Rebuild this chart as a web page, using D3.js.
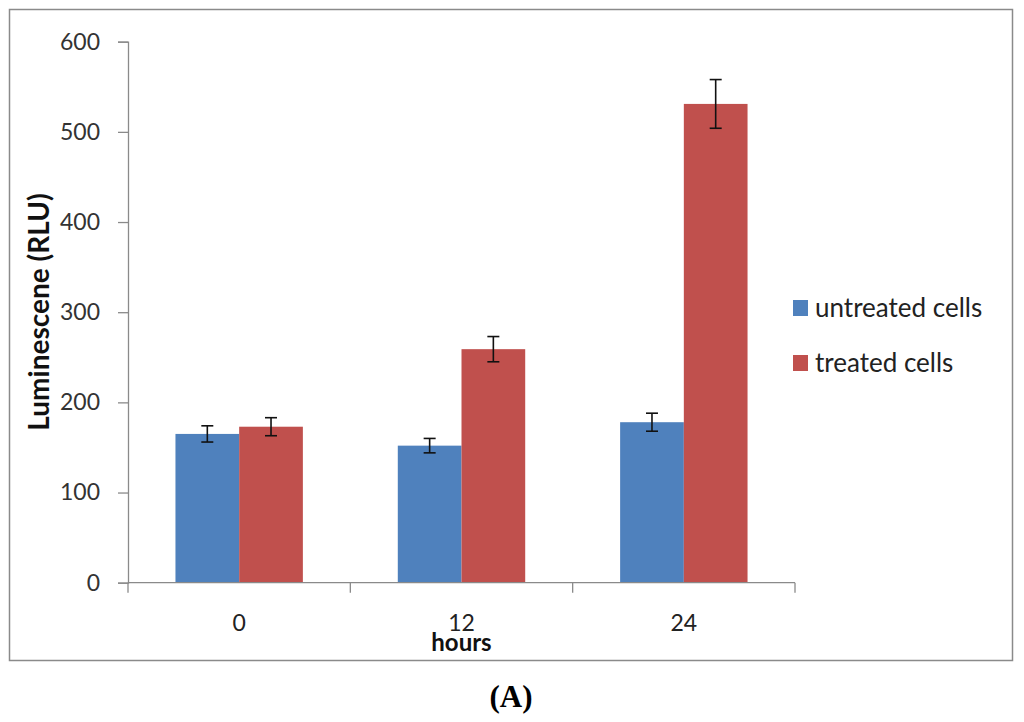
<!DOCTYPE html>
<html>
<head>
<meta charset="utf-8">
<script src="https://cdn.jsdelivr.net/npm/d3@7"></script>
<style>
  html, body { margin: 0; padding: 0; background: #fff; }
  svg { display: block; }
</style>
</head>
<body>
<svg id="chart" width="1024" height="722"></svg>
<script>
const categories = ["0", "12", "24"];
const seriesNames = ["untreated cells", "treated cells"];
const untreated = [165, 152, 178];
const treated = [173, 259, 531];
const untreatedErr = [9, 8, 10];
const treatedErr = [10, 14, 27];
const yTicks = [0, 100, 200, 300, 400, 500, 600];
const colors = ["#4F81BD", "#C0504D"];

const svg = d3.select("#chart");
const font = "Lato, 'Open Sans', sans-serif";

// outer frame
svg.append("rect")
  .attr("x", 9.5).attr("y", 9.5).attr("width", 1003).attr("height", 651)
  .attr("fill", "#fff").attr("stroke", "#8a8a8a").attr("stroke-width", 1.5);

const x0 = 128, x1 = 795, yTop = 41.7, yBot = 582.7;
const y = d3.scaleLinear().domain([0, 600]).range([yBot, yTop]);
const x = d3.scaleBand().domain(categories).range([x0, x1]).padding(0);
const xs = d3.scaleBand().domain(seriesNames).range([0, x.bandwidth()])
  .paddingInner(0).paddingOuter(0.745);

const data = categories.map((c, i) => ({
  cat: c,
  vals: [
    { s: seriesNames[0], v: untreated[i], e: untreatedErr[i], c: colors[0] },
    { s: seriesNames[1], v: treated[i], e: treatedErr[i], c: colors[1] }
  ]
}));

// bars
const g = svg.append("g");
const groups = g.selectAll("g.cat").data(data).join("g")
  .attr("transform", d => `translate(${x(d.cat)},0)`);
groups.selectAll("rect").data(d => d.vals).join("rect")
  .attr("x", d => xs(d.s))
  .attr("width", xs.bandwidth())
  .attr("y", d => y(d.v))
  .attr("height", d => y(0) - y(d.v))
  .attr("fill", d => d.c);

// error bars
const eg = groups.selectAll("g.err").data(d => d.vals).join("g")
  .attr("stroke", "#111").attr("stroke-width", 1.6);
eg.append("line")
  .attr("x1", d => xs(d.s) + xs.bandwidth() / 2)
  .attr("x2", d => xs(d.s) + xs.bandwidth() / 2)
  .attr("y1", d => y(d.v + d.e)).attr("y2", d => y(d.v - d.e));
eg.append("line")
  .attr("x1", d => xs(d.s) + xs.bandwidth() / 2 - 6)
  .attr("x2", d => xs(d.s) + xs.bandwidth() / 2 + 6)
  .attr("y1", d => y(d.v + d.e)).attr("y2", d => y(d.v + d.e));
eg.append("line")
  .attr("x1", d => xs(d.s) + xs.bandwidth() / 2 - 6)
  .attr("x2", d => xs(d.s) + xs.bandwidth() / 2 + 6)
  .attr("y1", d => y(d.v - d.e)).attr("y2", d => y(d.v - d.e));

// y axis
const yAxis = d3.axisLeft(y).tickValues(yTicks).tickSize(10).tickPadding(18);
const ya = svg.append("g").attr("transform", `translate(${x0},0)`).call(yAxis);
ya.select(".domain").attr("stroke", "#8a8a8a").attr("stroke-width", 1.3);
ya.selectAll(".tick line").attr("stroke", "#8a8a8a").attr("stroke-width", 1.3);
ya.selectAll(".tick text").attr("font-family", font).attr("font-size", 23)
  .attr("fill", "#333");

// x axis line & boundary ticks
const xa = svg.append("g");
xa.append("line").attr("x1", x0).attr("x2", x1).attr("y1", yBot).attr("y2", yBot)
  .attr("stroke", "#8a8a8a").attr("stroke-width", 1.3);
const bounds = categories.map(c => x(c)).concat([x(categories[categories.length - 1]) + x.bandwidth()]);
xa.selectAll("line.b").data(bounds).join("line").attr("class", "b")
  .attr("x1", d => d).attr("x2", d => d).attr("y1", yBot).attr("y2", yBot + 10)
  .attr("stroke", "#8a8a8a").attr("stroke-width", 1.3);
xa.selectAll("text").data(categories).join("text")
  .attr("x", d => x(d) + x.bandwidth() / 2).attr("y", 631)
  .attr("text-anchor", "middle").attr("font-family", font).attr("font-size", 23)
  .attr("fill", "#222").text(d => d);

// axis titles
svg.append("text").attr("x", x(categories[1]) + x.bandwidth() / 2).attr("y", 651)
  .attr("text-anchor", "middle").attr("font-family", font).attr("font-weight", "bold")
  .attr("font-size", 24).attr("fill", "#111").text("hours");
svg.append("text").attr("transform", "translate(49,312) rotate(-90)")
  .attr("text-anchor", "middle").attr("font-family", font).attr("font-weight", "bold")
  .attr("font-size", 28).attr("fill", "#111").text("Luminescene (RLU)");

// legend
const leg = svg.append("g").attr("transform", "translate(793,300)");
const li = leg.selectAll("g").data(seriesNames).join("g")
  .attr("transform", (d, i) => `translate(0,${i * 55})`);
li.append("rect").attr("width", 15).attr("height", 16).attr("fill", (d, i) => colors[i]);
li.append("text").attr("x", 22).attr("y", 17).attr("font-family", font)
  .attr("font-size", 26).attr("fill", "#222").text(d => d);

// caption
svg.append("text").attr("x", 511).attr("y", 707).attr("text-anchor", "middle")
  .attr("font-family", "'Liberation Serif', 'DejaVu Serif', serif").attr("font-weight", "bold")
  .attr("font-size", 31).attr("fill", "#000").text("(A)");
</script>
</body>
</html>
